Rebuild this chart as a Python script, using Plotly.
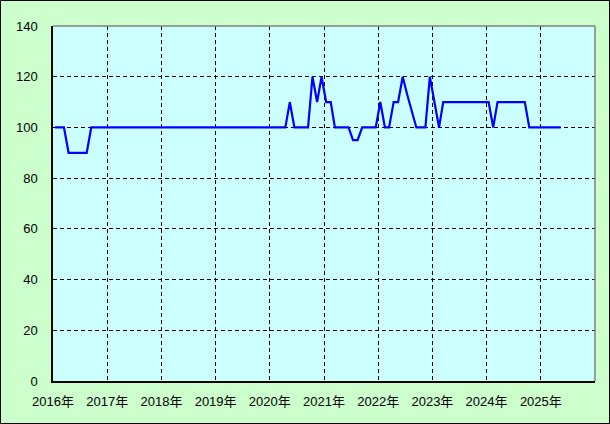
import plotly.graph_objects as go

# Monthly values, Jan 2016 .. May 2025
values = (
    [100, 100, 100, 90, 90, 90, 90, 90]            # 2016 Jan-Aug
    + [100] * 4                                     # 2016 Sep-Dec
    + [100] * 12 * 3                                # 2017-2019
    + [100, 100, 100, 100, 110, 100, 100, 100, 100, 120, 110, 120]  # 2020
    + [110, 110, 100, 100, 100, 100, 95, 95, 100, 100, 100, 100]    # 2021
    + [110, 100, 100, 110, 110, 120, 113, 107, 100, 100, 100, 120]  # 2022
    + [110, 100] + [110] * 10                                        # 2023
    + [110, 100, 110, 110, 110, 110, 110, 110, 110, 100, 100, 100]  # 2024
    + [100, 100, 100, 100, 100]                                      # 2025 Jan-May
)
dates = []
for i in range(len(values)):
    y = 2016 + i // 12
    m = i % 12 + 1
    dates.append(f"{y}-{m:02d}-15")

years = list(range(2016, 2026))
tick_vals = [f"{y}-01-01" for y in years]
tick_text = [f"{y}年" for y in years]
y_ticks = [0, 20, 40, 60, 80, 100, 120, 140]

L, R, T, B = 53, 15, 26, 43
W, H = 610, 424
pw, ph = W - L - R, H - T - B

fig = go.Figure()
fig.add_trace(go.Scatter(x=dates, y=values, mode="lines",
                         line=dict(color="#0000FF", width=2.2),
                         hoverinfo="skip", showlegend=False))

font = dict(family="Liberation Sans, Arial, Noto Sans CJK JP", size=13, color="#000000")

fig.update_layout(
    width=W, height=H,
    margin=dict(l=L, r=R, t=T, b=B, pad=0),
    paper_bgcolor="#CCFFCC",
    plot_bgcolor="#CCFFFF",
    font=font,
    showlegend=False,
    xaxis=dict(
        type="date", range=["2016-01-01", "2026-01-01"],
        tickvals=tick_vals, ticktext=tick_text,
        showgrid=True, gridcolor="#000000", gridwidth=1, griddash="4px,3px",
        showline=True, linecolor="#000000", linewidth=1.5,
        ticks="", ticklabelstandoff=8, zeroline=False,
        fixedrange=True,
    ),
    yaxis=dict(
        range=[0, 140], tickvals=y_ticks,
        showgrid=True, gridcolor="#000000", gridwidth=1, griddash="4px,3px",
        showline=True, linecolor="#000000", linewidth=1.5,
        ticks="", ticklabelstandoff=11, zeroline=False,
        fixedrange=True,
    ),
    shapes=[
        # top and right border of plot area in gray
        dict(type="line", xref="paper", yref="paper", x0=0, x1=1, y0=1, y1=1,
             line=dict(color="#808080", width=1.5)),
        dict(type="line", xref="paper", yref="paper", x0=1, x1=1, y0=0, y1=1,
             line=dict(color="#808080", width=1.5)),
        # outer frame around the whole chart
        dict(type="rect", xref="paper", yref="paper",
             x0=(0.5 - L) / pw, x1=(W - 0.5 - L) / pw,
             y0=-(B - 0.5) / ph, y1=1 + (T - 0.5) / ph,
             line=dict(color="#000000", width=1)),
    ],
)

fig.write_html("out.html", config={"displayModeBar": False},
               post_script="document.body.style.margin='0px';document.body.style.overflow='hidden';")
